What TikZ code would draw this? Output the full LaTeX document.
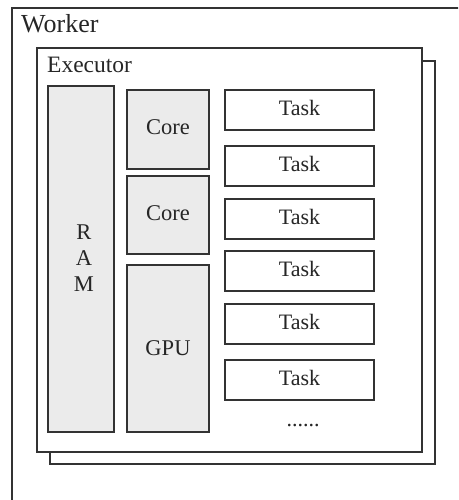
\documentclass[tikz,border=0pt]{standalone}
\usepackage{fontspec}
\setmainfont{Liberation Serif}
\usetikzlibrary{fit,calc}
\definecolor{edge}{HTML}{333333}
\definecolor{unit}{HTML}{EBEBEB}
\tikzset{
  frame/.style={draw=edge, line width=1.6pt, inner sep=0pt, outer sep=0pt},
  pane/.style={draw=edge, line width=1.4pt, fill=white, inner sep=0pt, outer sep=0pt},
  unitbox/.style={draw=edge, line width=1.4pt, fill=unit, inner sep=0pt, outer sep=0pt},
  taskbox/.style={draw=edge, line width=1.4pt, fill=white, inner sep=0pt, outer sep=0pt},
  lbl/.style={anchor=base, inner sep=0pt, font=\fontsize{22.5}{26}\selectfont, text=black!85},
  title/.style={anchor=base west, inner sep=0pt, text=black!85}
}
\begin{document}
\begin{tikzpicture}[x=1pt, y=-1pt]
  \useasboundingbox (0,0) rectangle (458,500);
  \clip (0,0) rectangle (458,500);

  % worker frame (runs past the page edge)
  \node[frame, fit={(12,8) (490,530)}] (worker) {};
  \node[title, font=\fontsize{26}{30}\selectfont] (workerlbl) at (21,33) {Worker};

  % executor with a stacked copy behind it
  \node[pane, fit={(50,61) (435,464)}] (execback) {};
  \node[pane, fit={(37,48) (422,452)}] (exec) {};
  \node[title, font=\fontsize{23.5}{28}\selectfont] (execlbl) at (47,73) {Executor};

  % memory
  \node[unitbox, fit={(48,86) (114,432)}] (ram) {};
  \node[lbl] (ramR) at (84,239) {R};
  \node[lbl] (ramA) at (84,265) {A};
  \node[lbl] (ramM) at (84,291) {M};

  % processing units
  \node[unitbox, fit={(127,90) (209,169)}] (core1) {};
  \node[lbl] (core1lbl) at (168,135) {Core};
  \node[unitbox, fit={(127,176) (209,254)}] (core2) {};
  \node[lbl] (core2lbl) at (168,220) {Core};
  \node[unitbox, fit={(127,265) (209,432)}] (gpu) {};
  \node[lbl] (gpulbl) at (168,355) {GPU};

  % task slots
  \foreach \i/\t in {1/90, 2/146, 3/199, 4/251, 5/304, 6/360} {
    \node[taskbox, fit={(225,\t) (374,\t+40)}] (task\i) {};
    \node[lbl, font=\fontsize{22}{26}\selectfont] (task\i lbl) at ($(task\i.north)+(0,25)$) {Task};
  }
  \node[lbl, font=\fontsize{22}{26}\selectfont] (more) at (303,426) {......};
\end{tikzpicture}
\end{document}
